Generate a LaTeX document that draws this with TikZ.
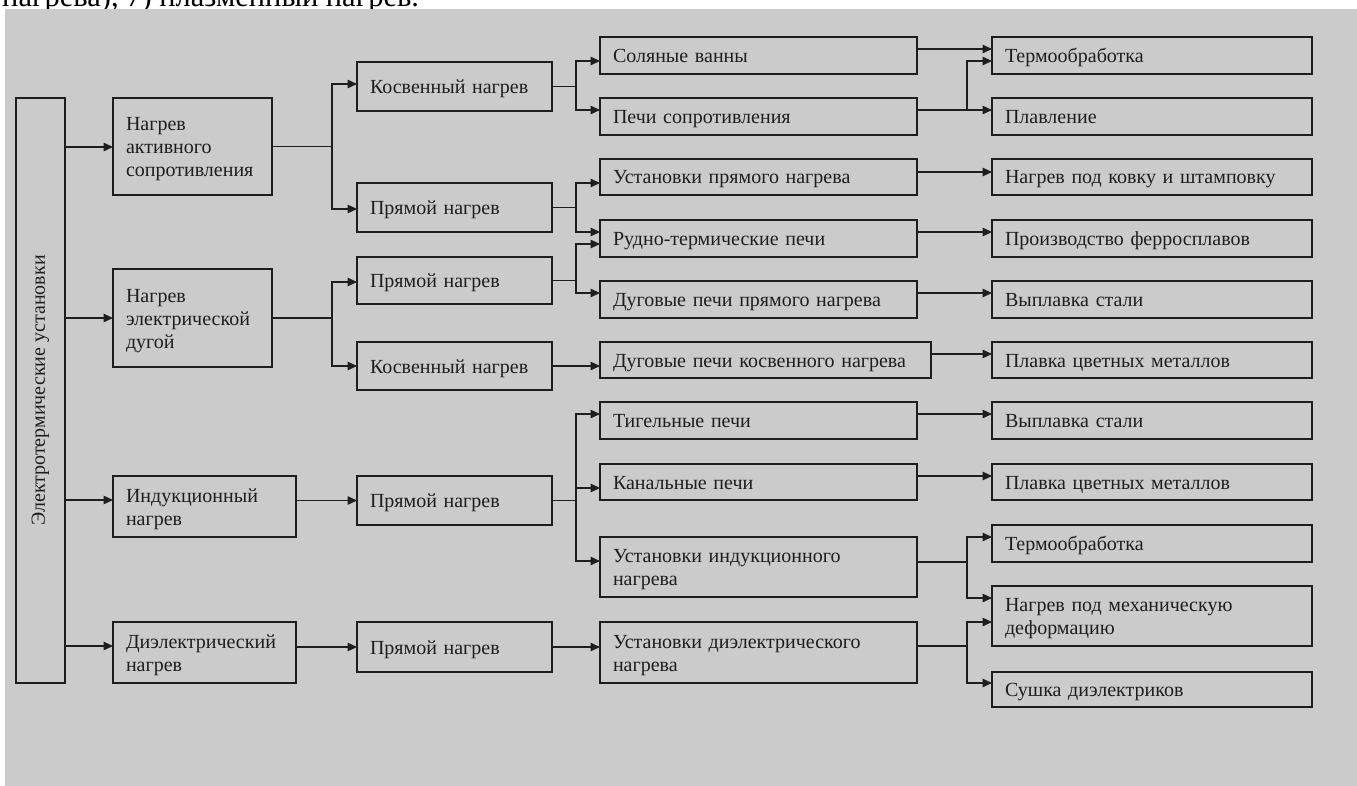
\documentclass[tikz,border=0pt]{standalone}
\usepackage{fontspec}
\setmainfont{Liberation Serif}
\usetikzlibrary{arrows.meta}
\definecolor{bg}{HTML}{CBCBCB}
\definecolor{ink}{HTML}{1E1E1E}
\tikzset{
 box/.style={draw=ink, line width=1.8pt, fill=bg, text=ink, font=\fontsize{20}{23}\selectfont, align=left, inner xsep=13pt, inner ysep=0pt, outer sep=0pt, anchor=north west},
 ln/.style={draw=ink, line width=1.4pt},
 arr/.style={ln, -{Triangle[length=9.5pt,width=8.5pt]}},
}
\newcommand\mybox[6]{%
 \pgfmathsetmacro\bw{#4-#2}\pgfmathsetmacro\bh{#5-#3}\pgfmathsetmacro\tw{#4-#2-26}%
 \node[box, minimum width=\bw pt, minimum height=\bh pt, text width=\tw pt] (#1) at (#2,#3) {\rule{0pt}{19pt}#6\rule[-5pt]{0pt}{5pt}};}
\begin{document}
\begin{tikzpicture}[x=1pt,y=-1pt]
\useasboundingbox (0,0) rectangle (1357,786);
\fill[white] (0,0) rectangle (1357,786);
\begin{scope}
\clip (0,0) rectangle (1357,9);
\node[anchor=base west, font=\fontsize{30.5}{31}\selectfont, inner sep=0pt, text=black] (toptext) at (2,7) {нагрева), 7) плазменный нагрев.};
\end{scope}
\fill[bg] (5,9) rectangle (1357,786);
% root
\node[box, rotate=90, align=center, minimum width=585pt, minimum height=49pt, inner xsep=0pt, anchor=north west] (R) at (16,683) {\raisebox{-3pt}{Электротермические установки}};
% column 1
\mybox{A1}{113}{98}{272}{195}{Нагрев\\активного\\сопротивления}
\mybox{A2}{113}{269}{272}{367}{Нагрев\\электрической\\дугой}
\mybox{A3}{113}{476}{296}{537}{Индукционный\\нагрев}
\mybox{A4}{113}{622}{296}{683}{Диэлектрический\\нагрев}
% column 2
\mybox{B1}{357}{62}{552}{111}{Косвенный нагрев}
\mybox{B2}{357}{183}{552}{232}{Прямой нагрев}
\mybox{B3}{357}{257}{552}{304}{Прямой нагрев}
\mybox{B4}{357}{342}{552}{390}{Косвенный нагрев}
\mybox{B5}{357}{476}{552}{525}{Прямой нагрев}
\mybox{B6}{357}{622}{552}{672}{Прямой нагрев}
% column 3
\mybox{C1}{600}{37}{917}{74}{Соляные ванны}
\mybox{C2}{600}{98}{917}{135}{Печи сопротивления}
\mybox{C3}{600}{159}{917}{195}{Установки прямого нагрева}
\mybox{C4}{600}{220}{917}{257}{Рудно-термические печи}
\mybox{C5}{600}{281}{917}{318}{Дуговые печи прямого нагрева}
\mybox{C6}{600}{342}{931}{378}{Дуговые печи косвенного нагрева}
\mybox{C7}{600}{402}{917}{439}{Тигельные печи}
\mybox{C8}{600}{464}{917}{500}{Канальные печи}
\mybox{C9}{600}{537}{917}{597}{Установки индукционного\\нагрева}
\mybox{C10}{600}{622}{917}{683}{Установки диэлектрического\\нагрева}
% column 4
\mybox{D1}{992}{37}{1312}{74}{Термообработка}
\mybox{D2}{992}{98}{1312}{135}{Плавление}
\mybox{D3}{992}{159}{1312}{195}{Нагрев под ковку и штамповку}
\mybox{D4}{992}{220}{1312}{257}{Производство ферросплавов}
\mybox{D5}{992}{281}{1312}{318}{Выплавка стали}
\mybox{D6}{992}{342}{1312}{378}{Плавка цветных металлов}
\mybox{D7}{992}{402}{1312}{439}{Выплавка стали}
\mybox{D8}{992}{464}{1312}{500}{Плавка цветных металлов}
\mybox{D9}{992}{525}{1312}{562}{Термообработка}
\mybox{D10}{992}{586}{1312}{646}{Нагрев под механическую\\деформацию}
\mybox{D11}{992}{672}{1312}{707}{Сушка диэлектриков}
% root -> column 1
\foreach \n/\yy in {A1/147,A2/318,A3/500,A4/646}
  \draw[arr] (R.south |- 0,\yy) -- (\n.west |- 0,\yy);
% column 1 -> column 2
\coordinate (jA) at (A1.east -| 332,0);
\draw[ln] (A1.east) -- (jA);
\draw[arr] (jA) |- (B1.west |- 0,84);
\draw[arr] (jA) |- (B2.west |- 0,209);
\coordinate (jB) at (A2.east -| 332,0);
\draw[ln] (A2.east) -- (jB);
\draw[arr] (jB) |- (B3.west |- 0,282);
\draw[arr] (jB) |- (B4.west |- 0,366);
\draw[arr] (A3.east |- B5.west) -- (B5.west);
\draw[arr] (A4.east |- B6.west) -- (B6.west);
% column 2 -> column 3
\coordinate (jC) at (B1.east -| 576,0);
\draw[ln] (B1.east) -- (jC);
\draw[arr] (jC) |- (C1.west |- 0,61);
\draw[arr] (jC) |- (C2.west |- 0,110);
\coordinate (jD) at (B2.east -| 576,0);
\draw[ln] (B2.east) -- (jD);
\draw[arr] (jD) |- (C3.west |- 0,183);
\draw[arr] (jD) |- (C4.west |- 0,232);
\coordinate (jE) at (B3.east -| 576,0);
\draw[ln] (B3.east) -- (jE);
\draw[arr] (jE) |- (C4.west |- 0,244);
\draw[arr] (jE) |- (C5.west |- 0,293);
\draw[arr] (B4.east) -- (C6.west |- B4.east);
\coordinate (jF) at (B5.east -| 576,0);
\draw[ln] (B5.east) -- (jF);
\draw[arr] (jF) |- (C7.west |- 0,414);
\draw[arr] (jF) |- (C8.west |- 0,488);
\draw[arr] (jF) |- (C9.west |- 0,561);
\draw[arr] (B6.east) -- (C10.west |- B6.east);
% column 3 -> column 4
\draw[arr] (C1.east |- 0,49) -- (D1.west |- 0,49);
\coordinate (jG) at (967,110);
\draw[ln] (C2.east |- jG) -- (jG);
\draw[arr] (jG) |- (D1.west |- 0,61);
\draw[arr] (jG) -- (D2.west |- jG);
\draw[arr] (C3.east |- 0,172) -- (D3.west |- 0,172);
\draw[arr] (C4.east |- 0,232) -- (D4.west |- 0,232);
\draw[arr] (C5.east |- 0,293) -- (D5.west |- 0,293);
\draw[arr] (C6.east |- 0,354) -- (D6.west |- 0,354);
\draw[arr] (C7.east |- 0,414) -- (D7.west |- 0,414);
\draw[arr] (C8.east |- 0,476) -- (D8.west |- 0,476);
\coordinate (jH) at (967,562);
\draw[ln] (C9.east |- jH) -- (jH);
\draw[arr] (jH) |- (D9.west |- 0,537);
\draw[arr] (jH) |- (D10.west |- 0,598);
\coordinate (jI) at (967,646);
\draw[ln] (C10.east |- jI) -- (jI);
\draw[arr] (jI) |- (D10.west |- 0,622);
\draw[arr] (jI) |- (D11.west |- 0,683);
\end{tikzpicture}
\end{document}
